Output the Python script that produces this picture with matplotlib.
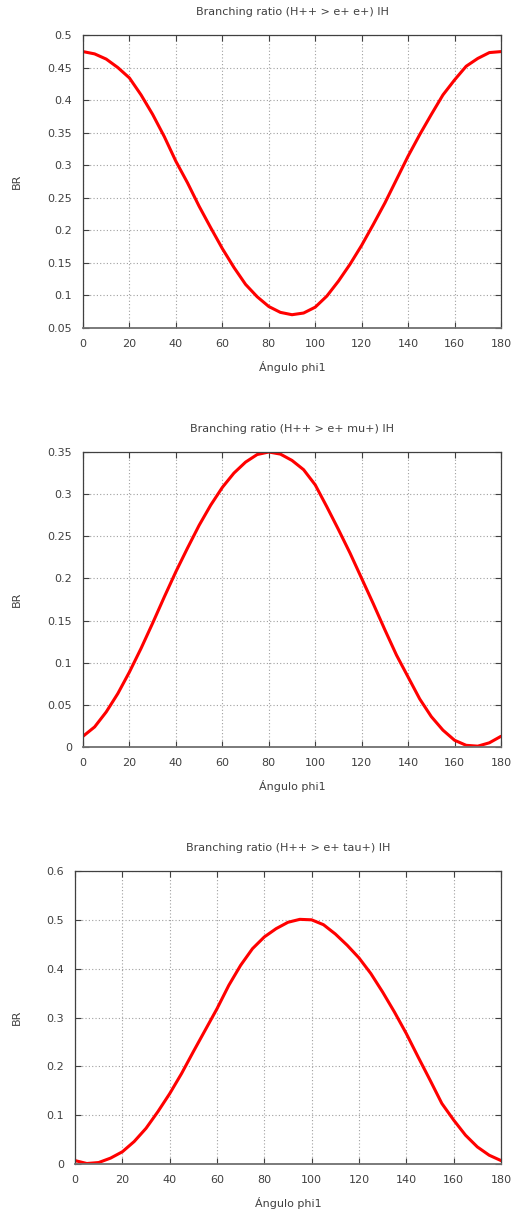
import matplotlib
matplotlib.use("Agg")
import matplotlib.pyplot as plt

# angle phi1 in degrees, sampled every 5 degrees
phi = [0, 5, 10, 15, 20, 25, 30, 35, 40, 45, 50, 55, 60, 65, 70, 75, 80, 85, 90,
       95, 100, 105, 110, 115, 120, 125, 130, 135, 140, 145, 150, 155, 160, 165, 170, 175, 180]

br_ee = [0.4745, 0.471, 0.463, 0.450, 0.434, 0.408, 0.378, 0.344, 0.306, 0.273, 0.237, 0.204,
         0.172, 0.143, 0.117, 0.098, 0.083, 0.074, 0.0704,
         0.073, 0.082, 0.099, 0.122, 0.148, 0.177, 0.209, 0.242, 0.278, 0.314, 0.347, 0.378,
         0.408, 0.431, 0.452, 0.464, 0.473, 0.4745]

br_emu = [0.0127, 0.0238, 0.0416, 0.0634, 0.089, 0.117, 0.147, 0.178, 0.208, 0.236, 0.263, 0.287,
          0.308, 0.325, 0.338, 0.347, 0.350, 0.3475, 0.340,
          0.329, 0.311, 0.285, 0.258, 0.230, 0.200, 0.170, 0.139, 0.109, 0.083, 0.057, 0.036,
          0.020, 0.008, 0.002, 0.001, 0.005, 0.0127]

br_etau = [0.007, 0.001, 0.003, 0.012, 0.025, 0.046, 0.073, 0.107, 0.144, 0.185, 0.230, 0.274,
           0.318, 0.366, 0.407, 0.441, 0.465, 0.482, 0.495,
           0.501, 0.500, 0.490, 0.471, 0.448, 0.422, 0.390, 0.352, 0.311, 0.267, 0.219, 0.172,
           0.124, 0.090, 0.059, 0.035, 0.018, 0.007]

titles = ["Branching ratio (H++ > e+ e+) IH",
          "Branching ratio (H++ > e+ mu+) IH",
          "Branching ratio (H++ > e+ tau+) IH"]
ylims = [(0.05, 0.5), (0, 0.35), (0, 0.6)]
ysteps = [0.05, 0.05, 0.1]
ytick_labels = [["0.05", "0.1", "0.15", "0.2", "0.25", "0.3", "0.35", "0.4", "0.45", "0.5"],
                ["0", "0.05", "0.1", "0.15", "0.2", "0.25", "0.3", "0.35"],
                ["0", "0.1", "0.2", "0.3", "0.4", "0.5", "0.6"]]
xticks = [0, 20, 40, 60, 80, 100, 120, 140, 160, 180]

plt.rcParams["font.family"] = "DejaVu Sans"
plt.rcParams["font.size"] = 8
text_color = "#404040"

W, H = 514, 1213
fig = plt.figure(figsize=(W / 100, H / 100), dpi=100)

# axes boxes in pixels: left, top, right, bottom
boxes = [(83, 35, 501, 328), (83, 452, 501, 747), (75, 871, 501, 1164)]
series = [br_ee, br_emu, br_etau]

for i in range(3):
    l, t, r, b = boxes[i]
    ax = fig.add_axes([l / W, 1 - b / H, (r - l) / W, (b - t) / H])
    ax.plot(phi, series[i], color="#ff0000", lw=2.2, solid_capstyle="round")
    ax.set_xlim(0, 180)
    ax.set_ylim(*ylims[i])
    lo, hi = ylims[i]
    n = int(round((hi - lo) / ysteps[i]))
    yt = [lo + k * ysteps[i] for k in range(n + 1)]
    ax.set_yticks(yt)
    ax.set_yticklabels(ytick_labels[i])
    ax.set_xticks(xticks)
    ax.grid(True, color="#a0a0a0", linestyle=(0, (1, 2)), lw=0.8)
    ax.tick_params(direction="in", length=4, width=0.8, top=True, right=True,
                   colors="#404040", labelcolor=text_color, labelsize=8, pad=8)
    for s in ax.spines.values():
        s.set_color("#404040")
        s.set_linewidth(0.9)
    ax.spines["bottom"].set_color("#707070")
    ax.spines["bottom"].set_linewidth(1.3)
    cx = (l + r) / 2
    fig.text(cx / W, 1 - (t - 23) / H, titles[i], ha="center", va="center",
             color=text_color, fontsize=8)
    fig.text(cx / W, 1 - (b + 39) / H, "Ángulo phi1", ha="center", va="center",
             color=text_color, fontsize=8)
    fig.text(17 / W, 1 - ((t + b) / 2) / H, "BR", ha="center", va="center",
             rotation=90, color=text_color, fontsize=8)

fig.savefig("out.png", dpi=100, facecolor="white")
